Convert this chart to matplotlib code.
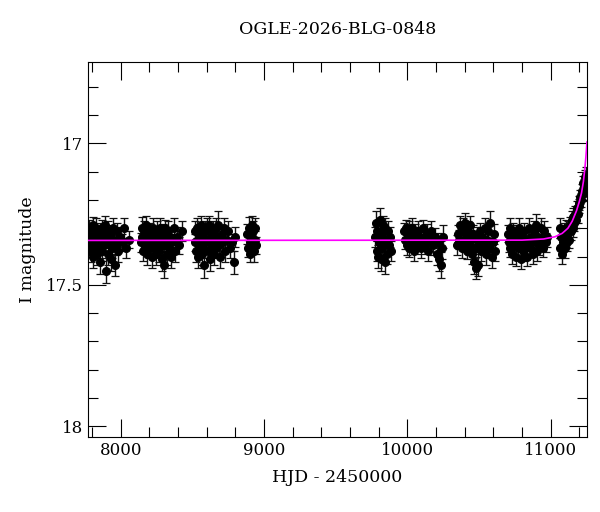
import numpy as np
import matplotlib
matplotlib.use("Agg")
import matplotlib.pyplot as plt
from matplotlib.ticker import MultipleLocator

title = "OGLE-2026-BLG-0848"

# observing seasons: HJD - 2450000, I mag, error
hjd_s1 = [7776, 7781, 7787, 7790, 7795, 7801, 7806, 7810, 7815, 7822, 7826, 7831, 7838, 7842,
          7847, 7853, 7858, 7864, 7869, 7873, 7880, 7886, 7891, 7897, 7903, 7908, 7914, 7920,
          7926, 7931, 7938, 7944, 7951, 7958, 7966, 7975, 7984, 7995, 8008, 8021, 8037, 8055]
mag_s1 = [17.33, 17.30, 17.36, 17.38, 17.31, 17.35, 17.29, 17.40, 17.34, 17.32, 17.37, 17.30, 17.39, 17.33,
          17.36, 17.31, 17.42, 17.35, 17.30, 17.38, 17.33, 17.36, 17.29, 17.45, 17.34, 17.31, 17.39, 17.35,
          17.32, 17.41, 17.37, 17.30, 17.34, 17.43, 17.36, 17.31, 17.38, 17.33, 17.35, 17.30, 17.37, 17.34]
err_s1 = [0.035, 0.03, 0.035, 0.04, 0.03, 0.035, 0.03, 0.04, 0.035, 0.03, 0.035, 0.035, 0.04, 0.03,
          0.035, 0.03, 0.04, 0.035, 0.03, 0.035, 0.035, 0.03, 0.035, 0.045, 0.03, 0.035, 0.04, 0.035,
          0.03, 0.04, 0.035, 0.035, 0.03, 0.04, 0.035, 0.03, 0.04, 0.035, 0.03, 0.035, 0.035, 0.03]

hjd_s2 = [8140, 8146, 8151, 8157, 8163, 8168, 8174, 8180, 8186, 8191, 8197, 8203, 8209, 8215,
          8220, 8226, 8232, 8238, 8244, 8250, 8256, 8262, 8268, 8274, 8280, 8287, 8293, 8299,
          8305, 8311, 8318, 8324, 8331, 8338, 8345, 8353, 8361, 8370, 8381, 8394, 8410, 8430]
mag_s2 = [17.35, 17.30, 17.33, 17.38, 17.31, 17.36, 17.29, 17.39, 17.34, 17.32, 17.37, 17.31, 17.35, 17.40,
          17.33, 17.30, 17.37, 17.34, 17.39, 17.31, 17.36, 17.33, 17.38, 17.30, 17.35, 17.41, 17.32, 17.43,
          17.36, 17.30, 17.34, 17.39, 17.31, 17.37, 17.33, 17.40, 17.35, 17.30, 17.38, 17.33, 17.36, 17.31]
err_s2 = [0.035, 0.04, 0.03, 0.035, 0.035, 0.03, 0.035, 0.04, 0.03, 0.035, 0.035, 0.03, 0.035, 0.04,
          0.03, 0.035, 0.035, 0.03, 0.04, 0.035, 0.03, 0.035, 0.04, 0.035, 0.03, 0.04, 0.035, 0.045,
          0.035, 0.03, 0.035, 0.04, 0.035, 0.03, 0.035, 0.04, 0.03, 0.035, 0.04, 0.035, 0.03, 0.035]

hjd_s3 = [8515, 8520, 8526, 8531, 8537, 8542, 8548, 8553, 8559, 8565, 8570, 8576, 8582, 8588,
          8594, 8600, 8606, 8612, 8618, 8624, 8630, 8636, 8642, 8649, 8655, 8662, 8668, 8675,
          8682, 8689, 8696, 8704, 8712, 8721, 8730, 8740, 8751, 8763, 8777, 8790, 8798]
mag_s3 = [17.31, 17.35, 17.38, 17.30, 17.34, 17.40, 17.32, 17.36, 17.29, 17.39, 17.33, 17.37, 17.43, 17.31,
          17.35, 17.30, 17.38, 17.34, 17.29, 17.41, 17.33, 17.36, 17.31, 17.39, 17.34, 17.30, 17.37, 17.33,
          17.29, 17.36, 17.40, 17.32, 17.35, 17.30, 17.38, 17.34, 17.31, 17.37, 17.35, 17.42, 17.33]
err_s3 = [0.035, 0.03, 0.04, 0.035, 0.03, 0.04, 0.035, 0.03, 0.035, 0.04, 0.03, 0.035, 0.045, 0.035,
          0.03, 0.035, 0.04, 0.03, 0.035, 0.04, 0.035, 0.03, 0.035, 0.04, 0.03, 0.035, 0.035, 0.03,
          0.05, 0.035, 0.04, 0.03, 0.035, 0.035, 0.04, 0.03, 0.035, 0.035, 0.03, 0.04, 0.035]

hjd_s4 = [8884, 8889, 8894, 8899, 8904, 8909, 8914, 8919, 8924, 8929, 8934, 8939, 8944]
mag_s4 = [17.32, 17.37, 17.30, 17.35, 17.39, 17.33, 17.29, 17.36, 17.31, 17.38, 17.34, 17.30, 17.36]
err_s4 = [0.035, 0.03, 0.04, 0.035, 0.03, 0.035, 0.035, 0.03, 0.035, 0.04, 0.03, 0.035, 0.03]

hjd_s5 = [9775, 9780, 9786, 9791, 9797, 9802, 9808, 9813, 9819, 9824, 9830, 9836, 9841, 9847,
          9853, 9859, 9865, 9871, 9877, 9883]
mag_s5 = [17.33, 17.28, 17.38, 17.31, 17.40, 17.35, 17.27, 17.41, 17.32, 17.37, 17.29, 17.36, 17.42, 17.30,
          17.34, 17.39, 17.31, 17.36, 17.33, 17.38]
err_s5 = [0.035, 0.04, 0.035, 0.03, 0.04, 0.035, 0.04, 0.04, 0.035, 0.03, 0.035, 0.035, 0.04, 0.035,
          0.03, 0.035, 0.035, 0.03, 0.035, 0.035]

hjd_s6 = [9977, 9983, 9989, 9995, 10001, 10008, 10014, 10021, 10028, 10035, 10042, 10049, 10056, 10064,
          10072, 10080, 10088, 10097, 10106, 10115, 10125, 10135, 10146, 10157, 10168, 10180, 10192,
          10204, 10214, 10224, 10233, 10243, 10252]
mag_s6 = [17.31, 17.34, 17.30, 17.36, 17.33, 17.31, 17.37, 17.32, 17.35, 17.30, 17.34, 17.38, 17.32, 17.36,
          17.31, 17.35, 17.33, 17.37, 17.30, 17.34, 17.36, 17.32, 17.38, 17.34, 17.31, 17.36, 17.33,
          17.39, 17.35, 17.41, 17.43, 17.37, 17.33]
err_s6 = [0.03, 0.035, 0.03, 0.035, 0.03, 0.035, 0.03, 0.035, 0.03, 0.035, 0.03, 0.035, 0.035, 0.03,
          0.035, 0.03, 0.035, 0.035, 0.03, 0.035, 0.03, 0.035, 0.035, 0.03, 0.035, 0.035, 0.03,
          0.04, 0.035, 0.04, 0.045, 0.04, 0.04]

hjd_s7 = [10346, 10352, 10359, 10366, 10373, 10380, 10387, 10394, 10401, 10408, 10415, 10422, 10429, 10436,
          10443, 10450, 10457, 10464, 10471, 10478, 10485, 10492, 10499, 10507, 10515, 10523, 10531,
          10539, 10547, 10555, 10563, 10571, 10579, 10587, 10595, 10603, 10611]
mag_s7 = [17.36, 17.32, 17.34, 17.29, 17.31, 17.37, 17.30, 17.35, 17.28, 17.33, 17.38, 17.31, 17.36, 17.29,
          17.34, 17.39, 17.32, 17.42, 17.37, 17.44, 17.33, 17.43, 17.35, 17.31, 17.38, 17.33, 17.36,
          17.30, 17.39, 17.34, 17.31, 17.37, 17.28, 17.40, 17.35, 17.32, 17.38]
err_s7 = [0.035, 0.03, 0.035, 0.035, 0.03, 0.035, 0.035, 0.03, 0.035, 0.035, 0.03, 0.035, 0.035, 0.035,
          0.035, 0.035, 0.03, 0.04, 0.035, 0.04, 0.035, 0.04, 0.035, 0.03, 0.035, 0.035, 0.03,
          0.035, 0.04, 0.035, 0.03, 0.035, 0.04, 0.04, 0.035, 0.035, 0.035]

hjd_s8 = [10700, 10706, 10713, 10719, 10726, 10733, 10740, 10747, 10754, 10761, 10768, 10775, 10782, 10789,
          10796, 10803, 10810, 10817, 10825, 10833, 10841, 10849, 10857, 10865, 10873, 10881, 10889,
          10897, 10905, 10913, 10921, 10929, 10938, 10947, 10956, 10965, 10974]
mag_s8 = [17.32, 17.35, 17.30, 17.37, 17.33, 17.39, 17.31, 17.36, 17.34, 17.40, 17.32, 17.37, 17.30, 17.35,
          17.41, 17.33, 17.38, 17.31, 17.36, 17.40, 17.34, 17.30, 17.37, 17.33, 17.39, 17.31, 17.35,
          17.29, 17.38, 17.33, 17.36, 17.30, 17.34, 17.37, 17.31, 17.35, 17.33]
err_s8 = [0.03, 0.035, 0.035, 0.03, 0.035, 0.035, 0.03, 0.035, 0.035, 0.035, 0.03, 0.035, 0.035, 0.03,
          0.035, 0.035, 0.035, 0.03, 0.035, 0.035, 0.035, 0.035, 0.03, 0.035, 0.035, 0.035, 0.03,
          0.04, 0.035, 0.03, 0.035, 0.035, 0.035, 0.03, 0.035, 0.035, 0.035]

hjd_s9 = [11062, 11068, 11074, 11080, 11086, 11092, 11098, 11104, 11110, 11116, 11122, 11128, 11134, 11140,
          11146, 11152, 11158, 11164, 11170, 11176, 11182, 11188, 11194, 11200, 11206, 11212, 11218,
          11223, 11228, 11233, 11238, 11243, 11247]
mag_s9 = [17.30, 17.37, 17.33, 17.39, 17.35, 17.31, 17.37, 17.33, 17.30, 17.35, 17.31, 17.34, 17.29, 17.31,
          17.27, 17.30, 17.26, 17.28, 17.25, 17.27, 17.23, 17.25, 17.21, 17.22, 17.19, 17.20, 17.17,
          17.18, 17.14, 17.15, 17.12, 17.13, 17.11]
err_s9 = [0.035, 0.035, 0.03, 0.035, 0.035, 0.03, 0.035, 0.035, 0.03, 0.03, 0.035, 0.03, 0.03, 0.03,
          0.03, 0.03, 0.03, 0.03, 0.03, 0.03, 0.025, 0.03, 0.025, 0.025, 0.025, 0.025, 0.025,
          0.025, 0.025, 0.025, 0.025, 0.025, 0.025]

# microlensing model
model_hjd = [7772, 10800, 10950, 11030, 11080, 11120, 11150, 11180, 11200, 11215, 11228, 11238, 11245, 11253]
model_mag = [17.343, 17.342, 17.338, 17.330, 17.318, 17.300, 17.275, 17.238, 17.205, 17.175, 17.135, 17.090, 17.050, 16.995]

seasons = [
    (hjd_s1, mag_s1, err_s1), (hjd_s2, mag_s2, err_s2), (hjd_s3, mag_s3, err_s3),
    (hjd_s4, mag_s4, err_s4), (hjd_s5, mag_s5, err_s5), (hjd_s6, mag_s6, err_s6),
    (hjd_s7, mag_s7, err_s7), (hjd_s8, mag_s8, err_s8), (hjd_s9, mag_s9, err_s9),
]

plt.rcParams['font.family'] = ['DejaVu Serif']

fig = plt.figure(figsize=(6.0, 5.12), dpi=100)
ax = fig.add_axes([0.1467, 0.1465, 0.8316, 0.7325])

for t, m, e in seasons:
    ax.errorbar(t, m, yerr=e, fmt='o', color='black', ms=5.5, ecolor='#111111',
                elinewidth=1.0, capsize=2.8, capthick=0.9, zorder=2)

ax.plot(model_hjd, model_mag, color='#ff00ff', lw=1.2, zorder=3)

ax.set_xlim(7772, 11253)
ax.set_ylim(18.038, 16.712)

ax.xaxis.set_major_locator(MultipleLocator(1000))
ax.xaxis.set_minor_locator(MultipleLocator(200))
ax.yaxis.set_major_locator(MultipleLocator(0.5))
ax.yaxis.set_minor_locator(MultipleLocator(0.1))
ax.tick_params(which='both', direction='in', top=True, right=True, labelsize=12, width=0.8)
ax.tick_params(which='major', length=13)
ax.tick_params(which='minor', length=7)
ax.yaxis.set_major_formatter(matplotlib.ticker.FuncFormatter(lambda v, p: f"{v:g}"))

ax.set_title(title, fontsize=12.5, pad=20)
ax.set_xlabel("HJD - 2450000", fontsize=12.5, labelpad=7)
ax.set_ylabel("I magnitude", fontsize=12.5, labelpad=7)

fig.savefig("out.png", dpi=100)
